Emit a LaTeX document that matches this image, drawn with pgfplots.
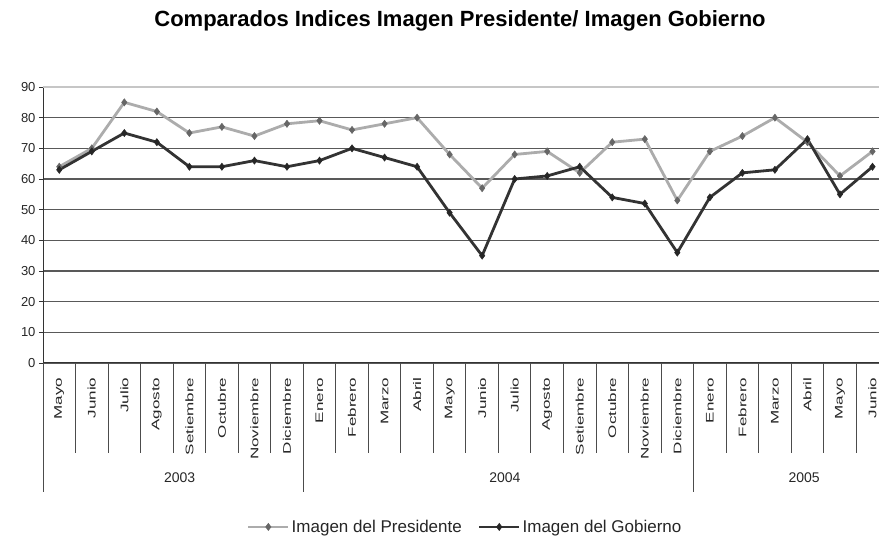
\documentclass[border=0pt]{standalone}
\usepackage{fontspec}
\setmainfont{Liberation Sans}
\usepackage{graphicx}
\usepackage{pgfplots}
\usepackage{pgfplotstable}
\pgfplotsset{compat=1.18}
\newcommand\mS[1]{\scalebox{1.55}[1]{#1}}
\pgfplotstableread{
x pres gob
0 64 63
1 70 69
2 85 75
3 82 72
4 75 64
5 77 64
6 74 66
7 78 64
8 79 66
9 76 70
10 78 67
11 80 64
12 68 49
13 57 35
14 68 60
15 69 61
16 62 64
17 72 54
18 73 52
19 53 36
20 69 54
21 74 62
22 80 63
23 72 73
24 61 55
25 69 64
}\datatable
\begin{document}
\begin{tikzpicture}
\node[font=\fontsize{22}{26}\selectfont\bfseries] at (460pt,519pt) {Comparados Indices Imagen Presidente/ Imagen Gobierno};
\begin{axis}[
  scale only axis, width=836pt, height=276pt, at={(43pt,177pt)}, anchor=south west,
  xmin=-0.5, xmax=25.2, ymin=0, ymax=90,
  ytick={0,10,...,80}, extra y ticks={90},
  extra y tick style={grid style={gray!45, line width=1.4pt}},
  ymajorgrids, grid style={black!65, line width=1.1pt},
  axis x line*=bottom, axis y line*=left,
  axis line style={black!80, line width=1pt},
  ytick style={black!80, line width=0.8pt}, tick align=outside, major tick length=4pt,
  xtick style={draw=none},
  /pgf/number format/assume math mode=true,
  yticklabel style={font=\fontsize{13}{15}\selectfont, black!85},
  xtick={0,...,25},
  xticklabels={\mS{Mayo},\mS{Junio},\mS{Julio},\mS{Agosto},\mS{Setiembre},\mS{Octubre},\mS{Noviembre},\mS{Diciembre},\mS{Enero},\mS{Febrero},\mS{Marzo},\mS{Abril},\mS{Mayo},\mS{Junio},\mS{Julio},\mS{Agosto},\mS{Setiembre},\mS{Octubre},\mS{Noviembre},\mS{Diciembre},\mS{Enero},\mS{Febrero},\mS{Marzo},\mS{Abril},\mS{Mayo},\mS{Junio}},
  xticklabel style={rotate=90, anchor=east, font=\fontsize{11}{13}\selectfont, black!85},
  xticklabel shift=7pt,
  clip=false,
  legend style={at={(0.505,-0.594)}, anchor=center, draw=none, legend columns=2,
    font=\fontsize{17}{20}\selectfont, text=black!85,
    /tikz/every even column/.append style={column sep=14pt}},
  legend image code/.code={\draw[#1] (0pt,0pt) -- (40pt,0pt); \draw[#1, mark repeat=1] plot coordinates {(20pt,0pt)};},
]
\addplot[color=gray!65, line width=2.8pt, mark=diamond*, mark size=3.6pt, mark options={fill=black!60, draw=black!60, line width=0.5pt}] table[x=x, y=pres] {\datatable};
\addlegendentry{Imagen del Presidente}
\addplot[color=black!80, line width=2.8pt, mark=diamond*, mark size=3.6pt, mark options={fill=black!85, draw=black!85, line width=0.5pt}] table[x=x, y=gob] {\datatable};
\addlegendentry{Imagen del Gobierno}
\pgfplotsinvokeforeach{0.5,1.5,...,24.5}{\draw[black!70, line width=0.9pt] (axis cs:#1,0) -- ([yshift=-90pt]axis cs:#1,0);}
\draw[black!70, line width=0.9pt] (axis cs:-0.5,0) -- ([yshift=-129pt]axis cs:-0.5,0);
\draw[black!70, line width=0.9pt] (axis cs:7.5,0) -- ([yshift=-129pt]axis cs:7.5,0);
\draw[black!70, line width=0.9pt] (axis cs:19.5,0) -- ([yshift=-129pt]axis cs:19.5,0);
\node[font=\fontsize{14}{16}\selectfont, text=black!85] at ([yshift=-115pt]axis cs:3.7,0) {2003};
\node[font=\fontsize{14}{16}\selectfont, text=black!85] at ([yshift=-115pt]axis cs:13.7,0) {2004};
\node[font=\fontsize{14}{16}\selectfont, text=black!85] at ([yshift=-115pt]axis cs:22.9,0) {2005};
\end{axis}
\pgfresetboundingbox
\useasboundingbox (0,0) rectangle (879pt,540pt);
\end{tikzpicture}
\end{document}
